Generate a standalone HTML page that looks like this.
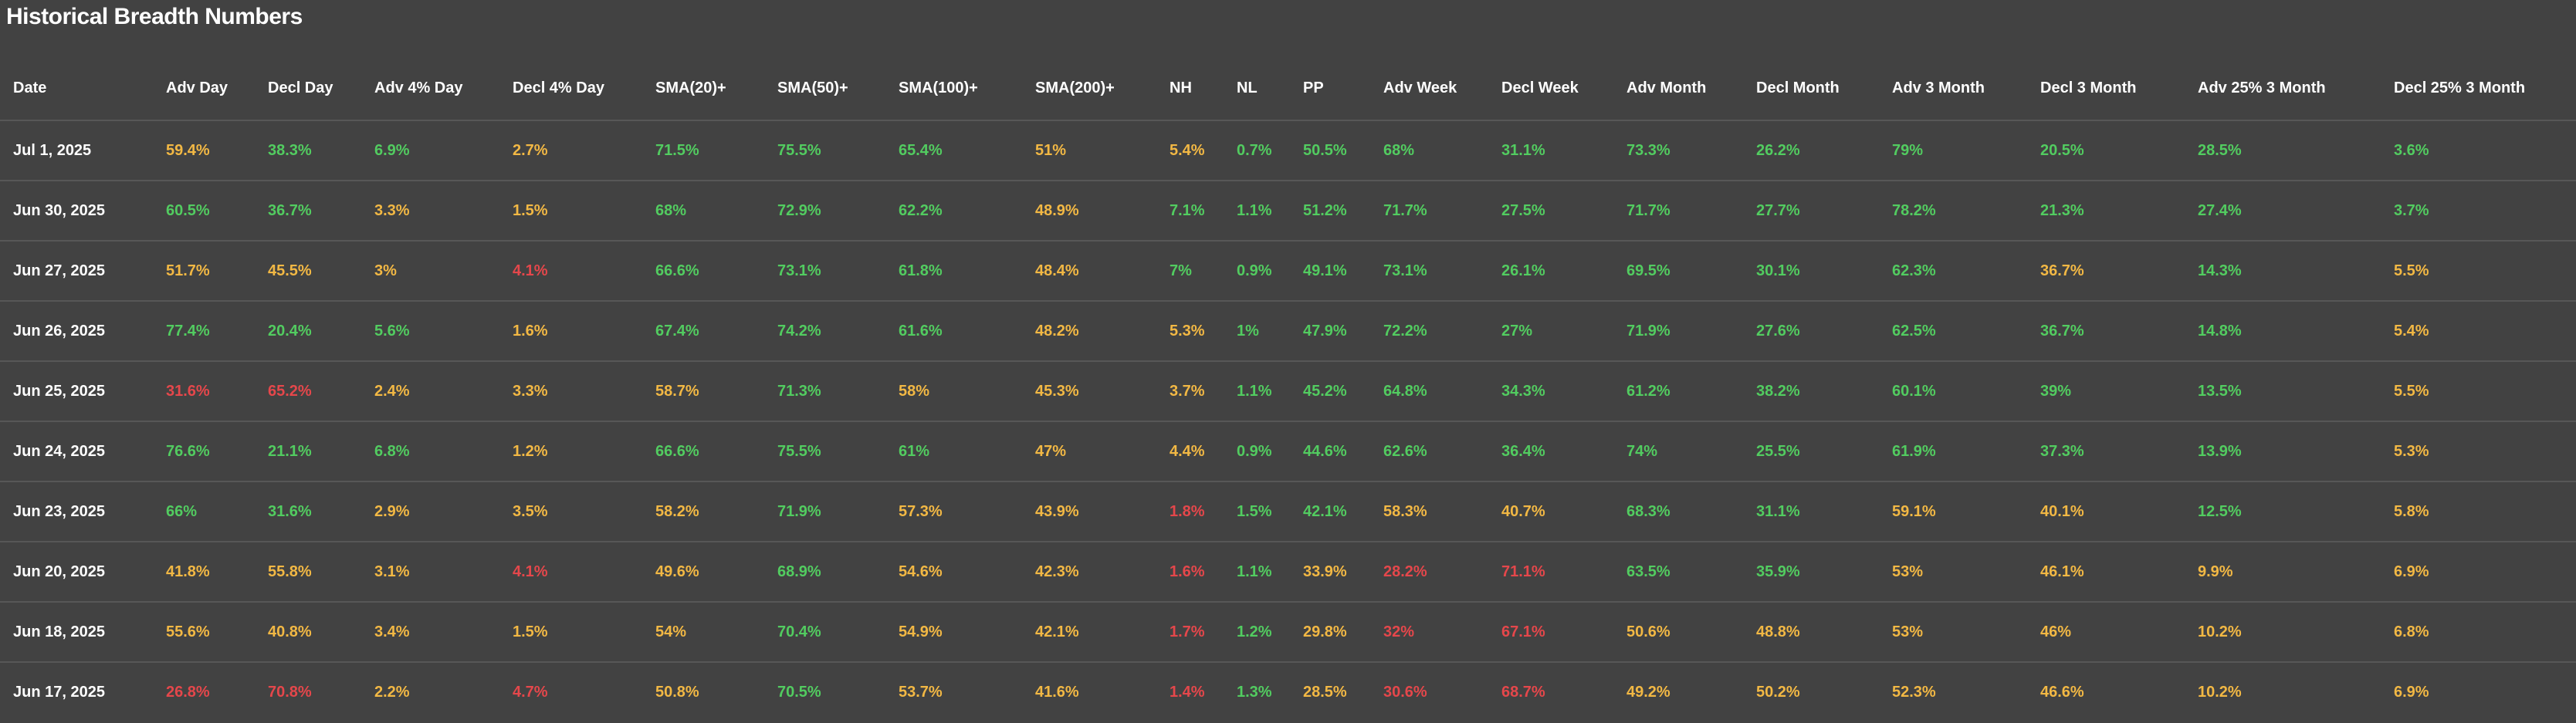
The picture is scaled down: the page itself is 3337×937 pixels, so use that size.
<!DOCTYPE html>
<html><head><meta charset="utf-8">
<style>
html,body{margin:0;padding:0;}
body{width:3337px;height:937px;background:#424242;overflow:hidden;position:relative;font-family:"Liberation Sans",sans-serif;}
#title{position:absolute;left:8px;top:5px;font-size:30px;font-weight:bold;color:#fff;letter-spacing:-0.5px;}
.h,.c{position:absolute;font-size:20px;font-weight:bold;white-space:nowrap;line-height:24px;}
.h{color:#fff;}
.line{position:absolute;left:0;width:3337px;height:2px;background:#575757;}
</style></head>
<body>
<div id="title">Historical Breadth Numbers</div>
<div id="tbl"></div>
<script>
const headers=["Date","Adv Day","Decl Day","Adv 4% Day","Decl 4% Day","SMA(20)+","SMA(50)+","SMA(100)+","SMA(200)+","NH","NL","PP","Adv Week","Decl Week","Adv Month","Decl Month","Adv 3 Month","Decl 3 Month","Adv 25% 3 Month","Decl 25% 3 Month"];
const dates=["Jul 1, 2025","Jun 30, 2025","Jun 27, 2025","Jun 26, 2025","Jun 25, 2025","Jun 24, 2025","Jun 23, 2025","Jun 20, 2025","Jun 18, 2025","Jun 17, 2025"];
const advDay=[59.4,60.5,51.7,77.4,31.6,76.6,66,41.8,55.6,26.8];
const declDay=[38.3,36.7,45.5,20.4,65.2,21.1,31.6,55.8,40.8,70.8];
const adv4=[6.9,3.3,3,5.6,2.4,6.8,2.9,3.1,3.4,2.2];
const decl4=[2.7,1.5,4.1,1.6,3.3,1.2,3.5,4.1,1.5,4.7];
const sma20=[71.5,68,66.6,67.4,58.7,66.6,58.2,49.6,54,50.8];
const sma50=[75.5,72.9,73.1,74.2,71.3,75.5,71.9,68.9,70.4,70.5];
const sma100=[65.4,62.2,61.8,61.6,58,61,57.3,54.6,54.9,53.7];
const sma200=[51,48.9,48.4,48.2,45.3,47,43.9,42.3,42.1,41.6];
const nh=[5.4,7.1,7,5.3,3.7,4.4,1.8,1.6,1.7,1.4];
const nl=[0.7,1.1,0.9,1,1.1,0.9,1.5,1.1,1.2,1.3];
const pp=[50.5,51.2,49.1,47.9,45.2,44.6,42.1,33.9,29.8,28.5];
const advWeek=[68,71.7,73.1,72.2,64.8,62.6,58.3,28.2,32,30.6];
const declWeek=[31.1,27.5,26.1,27,34.3,36.4,40.7,71.1,67.1,68.7];
const advMonth=[73.3,71.7,69.5,71.9,61.2,74,68.3,63.5,50.6,49.2];
const declMonth=[26.2,27.7,30.1,27.6,38.2,25.5,31.1,35.9,48.8,50.2];
const adv3m=[79,78.2,62.3,62.5,60.1,61.9,59.1,53,53,52.3];
const decl3m=[20.5,21.3,36.7,36.7,39,37.3,40.1,46.1,46,46.6];
const adv25=[28.5,27.4,14.3,14.8,13.5,13.9,12.5,9.9,10.2,10.2];
const decl25=[3.6,3.7,5.5,5.4,5.5,5.3,5.8,6.9,6.8,6.9];
// colour codes per row (y=yellow, g=green, r=red), one char per value column
const colorCodes=[
"yggygggyy"+"gggggggggg",
"ggyygggyg"+"gggggggggg",
"yyyrgggyg"+"gggggggygy",
"gggygggyy"+"gggggggggy",
"rryyygyyy"+"gggggggggy",
"gggygggyy"+"gggggggggy",
"ggyyygyyr"+"ggyyggyygy",
"yyyrygyyr"+"gyrrggyyyy",
"yyyyygyyr"+"gyrryyyyyy",
"rryrygyyr"+"gyrryyyyyy"];
</script>
<script>
const cols=[advDay,declDay,adv4,decl4,sma20,sma50,sma100,sma200,nh,nl,pp,advWeek,declWeek,advMonth,declMonth,adv3m,decl3m,adv25,decl25];
const colX=[17,215,347,485,664,849,1007,1164,1341,1515,1602,1688,1792,1945,2107,2275,2451,2643,2847,3101];
const palette={y:"#f2b844",g:"#52cc60",r:"#e5474b"};
const tbl=document.getElementById('tbl');
const rowTop=155, rowH=78;
headers.forEach((h,i)=>{
  const d=document.createElement('div');
  d.className='h';
  
  
  d.style.left=colX[i]+'px';d.style.top='102px';d.textContent=h;tbl.appendChild(d);
});
for(let r=0;r<dates.length;r++){
  const ln=document.createElement('div');
  ln.className='line';
  
  
  ln.style.top=(rowTop+r*rowH)+'px';tbl.appendChild(ln);
  const y=rowTop+r*rowH+28;
  const dd=document.createElement('div');
  dd.className='c';
  
  
  dd.style.left=colX[0]+'px';dd.style.top=y+'px';dd.style.color='#fff';dd.textContent=dates[r];tbl.appendChild(dd);
  cols.forEach((arr,c)=>{
    const e=document.createElement('div');
    e.className='c';
    
    
    e.style.left=colX[c+1]+'px';e.style.top=y+'px';
    e.style.color=palette[colorCodes[r][c]]||palette.g;
    e.textContent=arr[r]+'%';tbl.appendChild(e);
  });
}
</script>
</body></html>
